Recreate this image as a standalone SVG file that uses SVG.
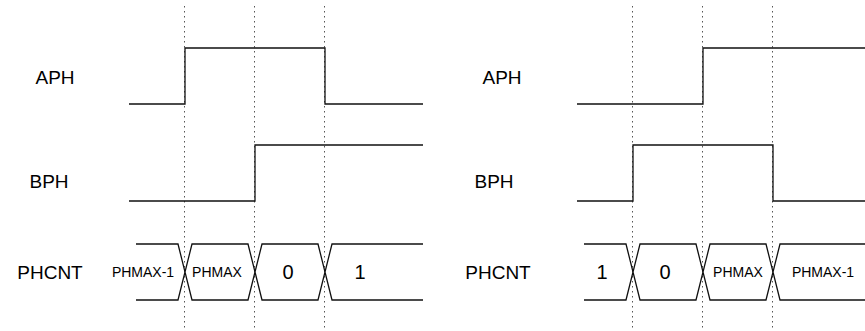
<svg xmlns="http://www.w3.org/2000/svg" width="865" height="331" viewBox="0 0 865 331">
<style>
.sig{fill:none;stroke:#111;stroke-width:1.3}
.dot{fill:none;stroke:#555;stroke-width:1;stroke-dasharray:1.5,3.5}
.lbl{font-family:"Liberation Sans",Arial,sans-serif;font-size:19px;fill:#000;text-anchor:middle}
.val{font-family:"Liberation Sans",Arial,sans-serif;font-size:20px;fill:#000;text-anchor:middle}
.sm{font-family:"Liberation Sans",Arial,sans-serif;font-size:14px;fill:#000;text-anchor:middle}
</style>
<rect width="865" height="331" fill="#fff"/>
<g id="guides">
<line class="dot" x1="184.5" y1="6" x2="184.5" y2="331"/>
<line class="dot" x1="254.5" y1="6" x2="254.5" y2="331"/>
<line class="dot" x1="324.5" y1="6" x2="324.5" y2="331"/>
<line class="dot" x1="632.5" y1="6" x2="632.5" y2="331"/>
<line class="dot" x1="702.5" y1="6" x2="702.5" y2="331"/>
<line class="dot" x1="772.5" y1="6" x2="772.5" y2="331"/>
</g>
<g id="left-labels">
<text class="lbl" x="55" y="84">APH</text>
<text class="lbl" x="49" y="188">BPH</text>
<text class="lbl" x="50" y="279">PHCNT</text>
</g>
<g id="left-aph"><polyline class="sig" points="129,104 185,104 185,48 325,48 325,104 423,104"/></g>
<g id="left-bph"><polyline class="sig" points="129,201 255,201 255,145 423,145"/></g>
<g id="left-phcnt">
<path class="sig" d="M136,244 H178 L192,300 H248 L262,244 H318 L332,300 H423 M136,300 H178 L192,244 H248 L262,300 H318 L332,244 H423"/>
<text class="sm" x="143" y="277">PHMAX-1</text>
<text class="sm" x="217" y="277">PHMAX</text>
<text class="val" x="288" y="279">0</text>
<text class="val" x="360" y="279">1</text>
</g>
<g id="right-labels">
<text class="lbl" x="502" y="84">APH</text>
<text class="lbl" x="494" y="188">BPH</text>
<text class="lbl" x="498" y="279">PHCNT</text>
</g>
<g id="right-aph"><polyline class="sig" points="577,104 703,104 703,48 865,48"/></g>
<g id="right-bph"><polyline class="sig" points="577,201 633,201 633,145 773,145 773,201 865,201"/></g>
<g id="right-phcnt">
<path class="sig" d="M584,244 H626 L640,300 H696 L710,244 H766 L780,300 H865 M584,300 H626 L640,244 H696 L710,300 H766 L780,244 H865"/>
<text class="val" x="602" y="279">1</text>
<text class="val" x="665" y="279">0</text>
<text class="sm" x="738" y="277">PHMAX</text>
<text class="sm" x="823" y="277">PHMAX-1</text>
</g>
</svg>
